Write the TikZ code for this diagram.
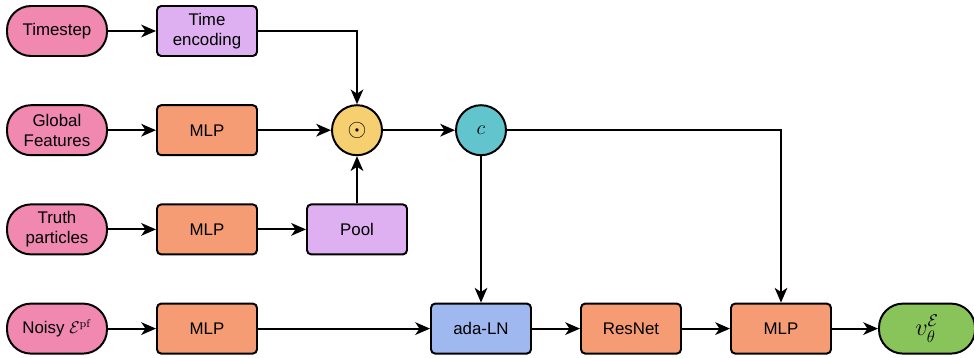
\documentclass[tikz,border=0pt]{standalone}
\usepackage{amsmath}
\usepackage{amssymb}
\usepackage[no-math]{fontspec}
\setmainfont{Liberation Sans}
\usepackage{tikz}
\usetikzlibrary{arrows.meta,positioning}

\definecolor{inpink}{RGB}{240,136,176}
\definecolor{encpurple}{RGB}{222,176,242}
\definecolor{mlporange}{RGB}{246,156,116}
\definecolor{prodyellow}{RGB}{246,208,112}
\definecolor{condteal}{RGB}{98,196,204}
\definecolor{lnblue}{RGB}{160,184,240}
\definecolor{outgreen}{RGB}{136,196,90}

\begin{document}
\begin{tikzpicture}[>={Stealth[length=10.5pt,width=9pt,inset=3pt]},line width=1.4pt,node distance=3.75cm,
		font=\fontsize{12}{14}\selectfont,
		pill/.style={draw, rounded corners=0.6cm, minimum width=2.5cm, minimum height=1.25cm, align=center, inner sep=1pt},
		block/.style={draw, rounded corners=3pt, minimum width=2.5cm, minimum height=1.25cm, align=center},
		op/.style={draw, circle, minimum size=1.25cm, inner sep=0pt}]
	\useasboundingbox (0,0) rectangle (24.35,-8.95);

	\node[pill, fill=inpink]      (timestep) at (1.425,-0.775) {Timestep};
	\node[block, fill=encpurple]  (timeenc)  [right of=timestep]  {Time\\encoding};
	\node[pill, fill=inpink]      (glob)     [below of=timestep, node distance=2.48cm] {Global\\Features};
	\node[block, fill=mlporange]  (mlpb)     [right of=glob]      {MLP};
	\node[op, fill=prodyellow]    (prod)     [right of=mlpb]      {\LARGE $\odot$};
	\node[op, fill=condteal]      (c)        [right of=prod, node distance=3.1cm] {\Large $c$};
	\node[pill, fill=inpink]      (truth)    [below of=glob, node distance=2.48cm] {Truth\\particles};
	\node[block, fill=mlporange]  (mlpc)     [right of=truth]     {MLP};
	\node[block, fill=encpurple]  (pool)     [right of=mlpc]      {Pool};
	\node[pill, fill=inpink]      (noisy)    [below of=truth, node distance=2.48cm] {Noisy $\mathcal{E}^{\mathrm{pf}}$};
	\node[block, fill=mlporange]  (mlpd)     [right of=noisy]     {MLP};
	\node[block, fill=lnblue]     (adaln)    at (c |- noisy)      {ada-LN};
	\node[block, fill=mlporange]  (resnet)   [right of=adaln]     {ResNet};
	\node[block, fill=mlporange]  (mlpe)     [right of=resnet]    {MLP};
	\node[pill, fill=outgreen, minimum width=2.4cm] (out) [right of=mlpe, node distance=3.65cm] {\LARGE $v_\theta^{\mathcal{E}}$};

	\draw[->]
		(timestep) edge (timeenc)
		(glob)     edge (mlpb)
		(mlpb)     edge (prod)
		(truth)    edge (mlpc)
		(mlpc)     edge (pool)
		(pool)     edge (prod)
		(prod)     edge (c)
		(c)        edge (adaln)
		(noisy)    edge (mlpd)
		(mlpd)     edge (adaln)
		(adaln)    edge (resnet)
		(resnet)   edge (mlpe)
		(mlpe)     edge (out);
	\draw[->] (timeenc) -| (prod);
	\draw[->] (c) -| (mlpe);

\end{tikzpicture}
\end{document}
